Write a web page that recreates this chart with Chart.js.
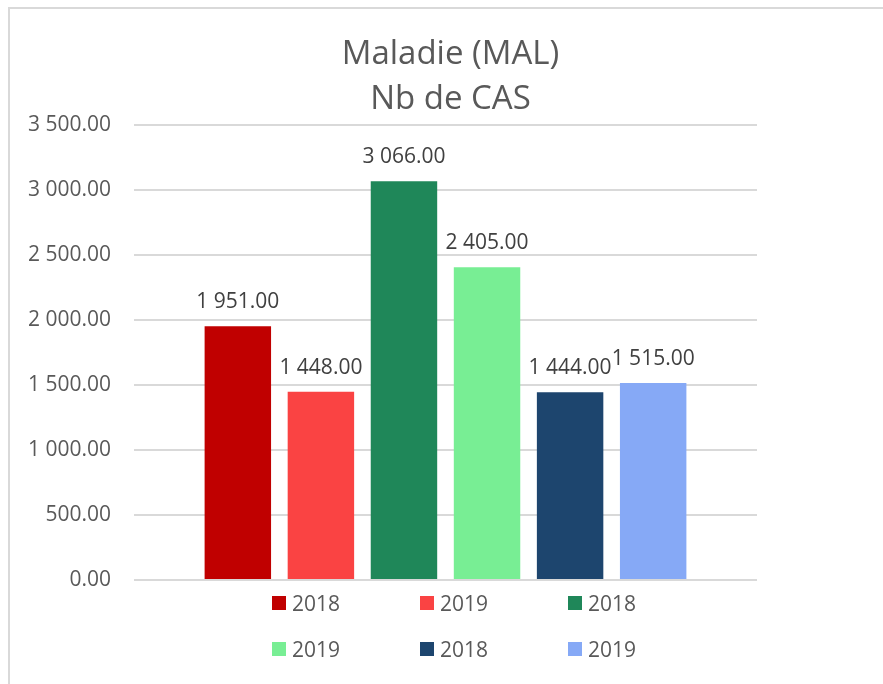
<!DOCTYPE html>
<html>
<head>
<meta charset="utf-8">
<script src="https://cdn.jsdelivr.net/npm/chart.js@4/dist/chart.umd.min.js"></script>
<style>
    html, body { margin: 0; padding: 0; background: #fff; }
    body { width: 883px; height: 684px; position: relative; overflow: hidden; font-family: "Open Sans", sans-serif; }
    .cadre { position: absolute; left: 8px; top: 7px; right: -10px; bottom: -10px; border-left: 2px solid #d9d9d9; border-top: 2px solid #d9d9d9; }
    #zone { position: absolute; left: 0; top: 0; width: 883px; height: 684px; }
    #legende { position: absolute; left: 272px; top: 589px; display: grid; grid-template-columns: 148px 148px 148px; row-gap: 18px; }
    #legende .item { display: flex; align-items: center; height: 28px; color: #595959; font-size: 21px; }
    #legende .box { width: 14px; height: 14px; margin-right: 6px; flex: none; }
</style>
</head>
<body>
<div class="cadre"></div>
<div id="zone"><canvas id="graficoCas" width="883" height="684"></canvas></div>
<div id="legende"></div>

<script>
// ── DONNÉES ─────────────────────────────────────────────
const titre      = ['Maladie (MAL)', 'Nb de CAS'];
const categories = [''];
const annees     = ['2018', '2019', '2018', '2019', '2018', '2019'];
const valeurs    = [1951, 1448, 3066, 2405, 1444, 1515];
const couleurs   = ['#C00000', '#FA4343', '#1F8759', '#78EE94', '#1D456E', '#86A9F6'];
const yMax       = 3500;
const yPas       = 500;

function fmt(v) {
    const s = parseFloat(v).toFixed(2);
    const [ent, dec] = s.split('.');
    return ent.replace(/\B(?=(\d{3})+(?!\d))/g, ' ') + '.' + dec;
}

// étiquettes au-dessus des barres
const etiquettes = {
    id: 'etiquettes',
    afterDatasetsDraw(chart) {
        const ctx = chart.ctx;
        ctx.save();
        ctx.font = '21px "Open Sans"';
        ctx.fillStyle = '#404040';
        ctx.textAlign = 'center';
        ctx.textBaseline = 'alphabetic';
        chart.data.datasets.forEach((ds, i) => {
            chart.getDatasetMeta(i).data.forEach((bar, j) => {
                ctx.fillText(fmt(ds.data[j]), bar.x, bar.y - 18);
            });
        });
        ctx.restore();
    }
};

const ctx = document.getElementById('graficoCas').getContext('2d');
const grafico = new Chart(ctx, {
    type: 'bar',
    data: {
        labels: categories,
        datasets: valeurs.map((v, i) => ({
            label: annees[i],
            data: [v],
            backgroundColor: couleurs[i],
            borderWidth: 0,
            barPercentage: 0.8,
            categoryPercentage: 0.8,
        }))
    },
    options: {
        responsive: false,
        animation: false,
        layout: { padding: { left: 18, right: 0, top: 0, bottom: 104 } },
        plugins: {
            legend: { display: false },
            tooltip: { enabled: false },
            title: {
                display: true,
                text: titre,
                color: '#595959',
                font: { family: 'Open Sans', size: 33, weight: 'normal', lineHeight: 1.36 },
                padding: { top: 32, bottom: 3 }
            }
        },
        scales: {
            x: { display: false },
            y: {
                min: 0, max: yMax,
                border: { display: false },
                grid: { color: '#d9d9d9', lineWidth: 2, drawTicks: false },
                ticks: {
                    stepSize: yPas,
                    padding: 23,
                    color: '#595959',
                    font: { family: 'Open Sans', size: 21 },
                    callback: v => fmt(v)
                },
                afterFit: s => { s.width = 116; }
            },
            // marge droite (vide)
            yDroite: {
                position: 'right',
                min: 0, max: yMax,
                border: { display: false },
                grid: { display: false },
                ticks: { display: false },
                afterFit: s => { s.width = 126; }
            }
        }
    },
    plugins: [etiquettes]
});

// Légende HTML (3 par ligne)
const divLeg = document.getElementById('legende');
divLeg.innerHTML = '';
grafico.data.datasets.forEach(ds => {
    divLeg.innerHTML += `<div class="item"><span class="box" style="background:${ds.backgroundColor}"></span>${ds.label}</div>`;
});
</script>
</body>
</html>
